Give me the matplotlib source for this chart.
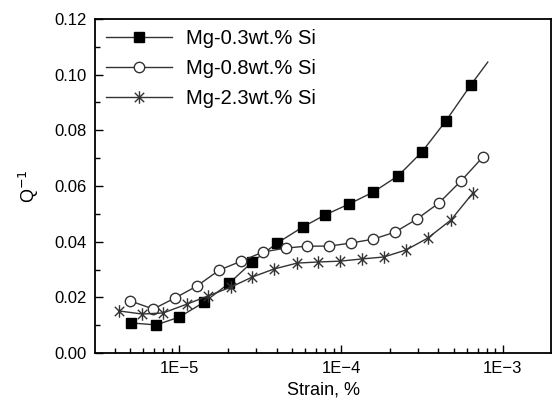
import numpy as np
import matplotlib.pyplot as plt
from matplotlib.path import Path
from matplotlib.ticker import FixedLocator, FuncFormatter, MultipleLocator, LogLocator

plt.rcParams['font.family'] = ['Liberation Sans', 'DejaVu Sans']

# Mg-0.3wt.% Si
strain_03 = [5.06e-6, 7.2e-6, 1.0e-5, 1.43e-5, 2.04e-5, 2.83e-5, 4.03e-5, 5.82e-5,
             7.96e-5, 1.12e-4, 1.58e-4, 2.25e-4, 3.16e-4, 4.45e-4, 6.34e-4]
q_03 = [0.0108, 0.0101, 0.0129, 0.0183, 0.0251, 0.0327, 0.0395, 0.0453,
        0.0496, 0.0535, 0.0578, 0.0636, 0.0722, 0.0834, 0.0963]
# fitted curve runs a bit past the last point
tail_03 = (8.07e-4, 0.1045)

# Mg-0.8wt.% Si
strain_08 = [4.99e-6, 6.92e-6, 9.45e-6, 1.29e-5, 1.77e-5, 2.42e-5, 3.30e-5, 4.57e-5,
             6.16e-5, 8.43e-5, 1.15e-4, 1.58e-4, 2.15e-4, 2.94e-4, 4.03e-4, 5.51e-4, 7.53e-4]
q_08 = [0.0187, 0.0158, 0.0198, 0.0241, 0.0298, 0.0330, 0.0363, 0.0377,
        0.0384, 0.0384, 0.0395, 0.0409, 0.0434, 0.0481, 0.0539, 0.0618, 0.0704]

# Mg-2.3wt.% Si
strain_23 = [4.27e-6, 5.91e-6, 7.97e-6, 1.12e-5, 1.51e-5, 2.09e-5, 2.83e-5, 3.86e-5,
             5.35e-5, 7.21e-5, 9.86e-5, 1.35e-4, 1.84e-4, 2.52e-4, 3.44e-4, 4.78e-4, 6.53e-4]
q_23 = [0.0151, 0.0140, 0.0144, 0.0176, 0.0205, 0.0237, 0.0273, 0.0302,
        0.0323, 0.0327, 0.0330, 0.0338, 0.0345, 0.0370, 0.0413, 0.0478, 0.0575]

labels = ['Mg-0.3wt.% Si', 'Mg-0.8wt.% Si', 'Mg-2.3wt.% Si']

# asterisk: vertical bar + X
star = Path([(0, -1), (0, 1), (-0.75, -0.75), (0.75, 0.75), (-0.75, 0.75), (0.75, -0.75)],
            [Path.MOVETO, Path.LINETO] * 3)

fig = plt.figure(figsize=(5.57, 4.03), dpi=100)
ax = fig.add_axes([0.171, 0.124, 0.818, 0.829])

ax.plot(strain_03 + [tail_03[0]], q_03 + [tail_03[1]], color='#333333', lw=1)
ax.plot(strain_03, q_03, ls='none', marker='s', ms=7, mfc='black', mec='black')
ax.plot(strain_08, q_08, color='#333333', lw=1)
ax.plot(strain_08, q_08, ls='none', marker='o', ms=7.5, mfc='white', mec='#333333', mew=1)
ax.plot(strain_23, q_23, color='#333333', lw=1)
ax.plot(strain_23, q_23, ls='none', marker=star, ms=9, mec='#333333', mew=1)

# legend proxies
h1, = ax.plot([], [], color='#333333', lw=1, marker='s', ms=7, mfc='black', mec='black')
h2, = ax.plot([], [], color='#333333', lw=1, marker='o', ms=7.5, mfc='white', mec='#333333')
h3, = ax.plot([], [], color='#333333', lw=1, marker=star, ms=9, mec='#333333')
ax.legend([h1, h2, h3], labels, loc='upper left', bbox_to_anchor=(-0.008, 1.012),
          frameon=False, fontsize=14.5, handlelength=3.3, handletextpad=0.7,
          labelspacing=0.55, borderaxespad=0.3)

ax.set_xscale('log')
ax.set_xlim(3.03e-6, 1.98e-3)
ax.set_ylim(0, 0.12)

ax.xaxis.set_major_locator(FixedLocator([1e-5, 1e-4, 1e-3]))
ax.xaxis.set_major_formatter(FuncFormatter(lambda v, p: '1E\u2212%d' % round(-np.log10(v))))
ax.xaxis.set_minor_locator(LogLocator(base=10, subs=np.arange(2, 10)))
ax.yaxis.set_major_locator(MultipleLocator(0.02))
ax.yaxis.set_minor_locator(MultipleLocator(0.01))
ax.yaxis.set_major_formatter(FuncFormatter(lambda v, p: '%.2f' % v))

ax.tick_params(which='both', direction='in', top=False, right=False, labelsize=12, width=1)
ax.tick_params(which='major', length=6, pad=6)
ax.tick_params(which='minor', length=3.5)
for s in ax.spines.values():
    s.set_linewidth(1.3)

ax.set_xlabel('Strain, %', fontsize=13, labelpad=4)
ax.set_ylabel('Q$^{-1}$', fontsize=13, labelpad=10)

fig.savefig('out.png', dpi=100)
